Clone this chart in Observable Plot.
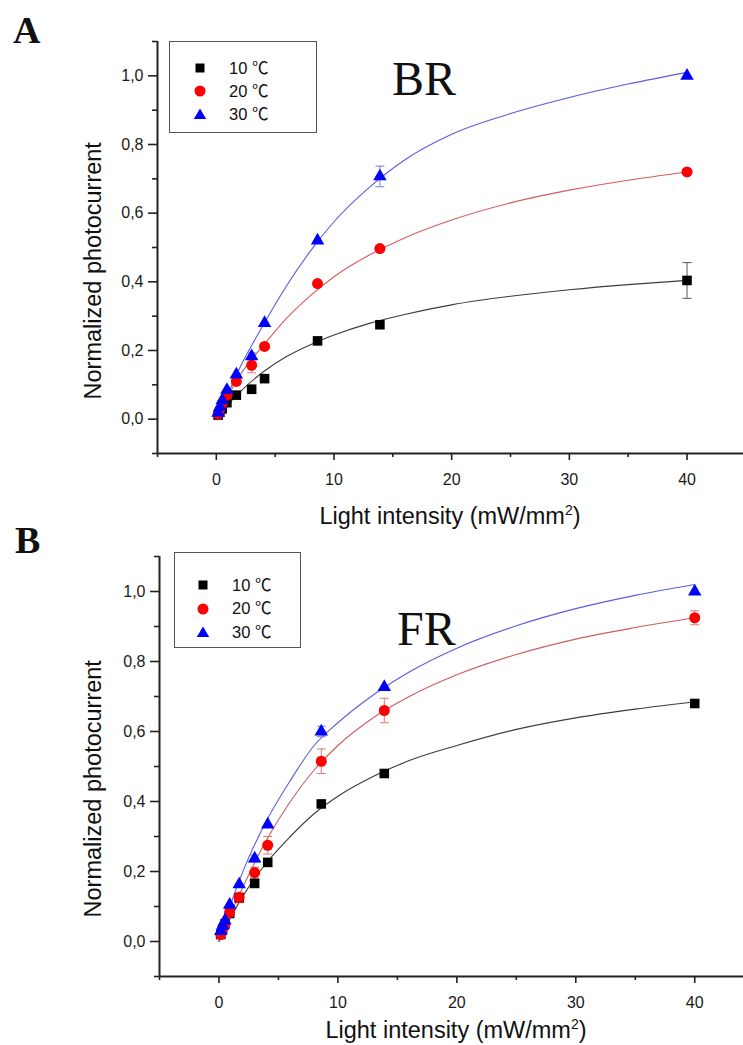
<!DOCTYPE html>
<html><head><meta charset="utf-8">
<script src="https://cdn.jsdelivr.net/npm/d3@7"></script>
<script src="https://cdn.jsdelivr.net/npm/@observablehq/plot@0.6"></script>
<style>
body{margin:0;background:#fff;}
#page{position:relative;width:743px;height:1045px;overflow:hidden;font-family:"Liberation Sans",Arial,sans-serif;color:#111;}
.abs{position:absolute;white-space:nowrap;line-height:1;}
.panel{position:absolute;left:0;}
</style></head><body><div id="page"></div>
<script>
// ---------- data ----------
const intensity = [0.15, 0.3, 0.5, 0.9, 1.7, 3.0, 4.1, 8.6, 13.9, 40];
const seriesNames = ["10 ℃", "20 ℃", "30 ℃"];
const seriesColors = ["#000000", "#ff0000", "#0000ff"];
const fitColors = ["#3c3c3c", "#d05c5c", "#5c5ce0"];
const errColors = ["#555555", "#e07878", "#7878e0"];
const seriesSymbols = ["square", "circle", "triangle"];

// BR panel (A)
const brT10 = [0.012, 0.02, 0.03, 0.048, 0.07, 0.087, 0.118, 0.228, 0.275, 0.404];
const brT20 = [0.015, 0.028, 0.045, 0.07, 0.11, 0.157, 0.212, 0.395, 0.497, 0.72];
const brT30 = [0.018, 0.035, 0.055, 0.085, 0.13, 0.183, 0.28, 0.52, 0.707, 1.0];
const brE10 = [0, 0, 0, 0, 0, 0.012, 0, 0, 0, 0.052];
const brE20 = [0, 0, 0, 0, 0.01, 0.022, 0, 0, 0, 0];
const brE30 = [0, 0, 0, 0, 0, 0.01, 0, 0, 0.03, 0];

// FR panel (B)
const frT10 = [0.02, 0.035, 0.05, 0.08, 0.125, 0.166, 0.226, 0.393, 0.48, 0.68];
const frT20 = [0.02, 0.035, 0.05, 0.083, 0.126, 0.197, 0.275, 0.515, 0.66, 0.925];
const frT30 = [0.03, 0.045, 0.06, 0.105, 0.163, 0.237, 0.334, 0.60, 0.727, 1.0];
const frE10 = [0, 0, 0, 0, 0, 0.012, 0, 0, 0, 0];
const frE20 = [0, 0.012, 0, 0.01, 0.015, 0.015, 0.025, 0.035, 0.035, 0.02];
const frE30 = [0, 0, 0, 0, 0, 0.01, 0, 0.015, 0, 0];

// fitted curves
const fitX = [0, 1, 2, 4, 6, 8, 10, 13, 16, 20, 25, 30, 35, 40];
const brFit10 = [0, 0.043, 0.079, 0.138, 0.183, 0.217, 0.245, 0.279, 0.305, 0.333, 0.358, 0.377, 0.392, 0.404];
const brFit20 = [0, 0.068, 0.128, 0.215, 0.295, 0.36, 0.415, 0.478, 0.528, 0.58, 0.63, 0.667, 0.696, 0.72];
const brFit30 = [0, 0.075, 0.15, 0.275, 0.39, 0.49, 0.575, 0.675, 0.755, 0.83, 0.89, 0.937, 0.976, 1.01];
const frFit10 = [0, 0.07, 0.129, 0.225, 0.30, 0.365, 0.415, 0.472, 0.517, 0.56, 0.606, 0.639, 0.664, 0.685];
const frFit20 = [0, 0.08, 0.155, 0.29, 0.40, 0.49, 0.56, 0.64, 0.70, 0.762, 0.82, 0.864, 0.897, 0.925];
const frFit30 = [0, 0.108, 0.199, 0.345, 0.46, 0.56, 0.625, 0.705, 0.77, 0.838, 0.902, 0.951, 0.989, 1.02];

// axes
const yMajor = [0, 0.2, 0.4, 0.6, 0.8, 1.0];
const yMinor = [-0.1, 0.1, 0.3, 0.5, 0.7, 0.9, 1.1];
const xMajor = [0, 10, 20, 30, 40];
const xMinor = [-5, 5, 15, 25, 35, 45];
const yDomain = [-0.1, 1.1];
const xLabel = "Light intensity (mW/mm²)";
const yLabel = "Normalized photocurrent";

// ---------- drawing ----------
const page = document.getElementById("page");
const FONT = '"Liberation Sans", Arial, "Noto Sans CJK SC", sans-serif';
const capSymbol = {draw(ctx) { ctx.moveTo(-4.5, 0); ctx.lineTo(4.5, 0); }};
const radii = [5.4, 5.5, 5.0];
const AXIS = "#222";

function buildPanel(cfg) {
  const rows = [];
  cfg.ys.forEach((arr, s) => arr.forEach((y, i) => rows.push({s, x: intensity[i], y, e: cfg.es[s][i]})));
  const fits = [];
  cfg.fits.forEach((arr, s) => arr.forEach((y, j) => fits.push({s, x: fitX[j], y})));
  const errs = rows.filter(d => d.e > 0);
  const fmt = d => d.toFixed(1).replace(".", ",");
  const marks = [
    Plot.line(fits, {x: "x", y: "y", z: "s", stroke: d => fitColors[d.s], strokeWidth: 1.1, curve: "monotone-x"}),
    Plot.ruleX(errs, {x: "x", y1: d => d.y - d.e, y2: d => d.y + d.e, stroke: d => errColors[d.s], strokeWidth: 1}),
    Plot.dot(errs, {x: "x", y: d => d.y + d.e, symbol: capSymbol, stroke: d => errColors[d.s], r: 3, strokeWidth: 1}),
    Plot.dot(errs, {x: "x", y: d => d.y - d.e, symbol: capSymbol, stroke: d => errColors[d.s], r: 3, strokeWidth: 1}),
  ];
  [0, 1, 2].forEach(s => marks.push(
    Plot.dot(rows.filter(d => d.s === s), {x: "x", y: "y", symbol: seriesSymbols[s], fill: seriesColors[s], r: radii[s]})
  ));
  marks.push(
    Plot.ruleY([yDomain[0]], {stroke: AXIS, strokeWidth: 2}),
    Plot.ruleX([cfg.xDomain[0]], {stroke: AXIS, strokeWidth: 2}),
    Plot.axisY({ticks: yMajor, tickSize: 9, tickPadding: 5, tickFormat: fmt, label: null, stroke: AXIS, strokeWidth: 1.6}),
    Plot.axisY({ticks: yMinor, tickSize: 5, tickFormat: () => "", label: null, stroke: AXIS, strokeWidth: 1.6}),
    Plot.axisX({ticks: xMajor, tickSize: 7, tickPadding: 13, tickFormat: d => String(d), label: null, stroke: AXIS, strokeWidth: 1.6}),
    Plot.axisX({ticks: xMinor.filter(v => v <= cfg.xDomain[1]), tickSize: 4, tickFormat: () => "", label: null, stroke: AXIS, strokeWidth: 1.6})
  );
  const svg = Plot.plot({
    width: 743, height: 540,
    marginLeft: cfg.marginLeft, marginRight: 0, marginTop: cfg.marginTop, marginBottom: cfg.marginBottom,
    x: {domain: cfg.xDomain},
    y: {domain: yDomain},
    color: {type: "identity"},
    style: {background: "transparent", overflow: "visible", fontSize: "16px", fontFamily: FONT, color: "#1a1a1a"},
    marks
  });
  const wrap = document.createElement("div");
  wrap.className = "panel";
  wrap.style.top = cfg.top + "px";
  wrap.appendChild(svg);
  page.appendChild(wrap);
}

function text(str, o) {
  const d = document.createElement("div");
  d.className = "abs";
  d.innerHTML = str;
  Object.assign(d.style, o);
  page.appendChild(d);
  return d;
}

function legend(box, rowYs, markerX, textX) {
  const b = document.createElement("div");
  b.className = "abs";
  Object.assign(b.style, {left: box.left + "px", top: box.top + "px", width: box.w + "px", height: box.h + "px",
    border: "1px solid #555", boxSizing: "border-box"});
  page.appendChild(b);
  const shapes = [
    '<rect x="2.5" y="2.5" width="9" height="9" fill="#000"/>',
    '<circle cx="7" cy="7" r="5.5" fill="#ff0000"/>',
    '<path d="M7,1.5 L13.2,12 L0.8,12 Z" fill="#0000ff"/>'
  ];
  rowYs.forEach((ry, s) => {
    const m = document.createElement("div");
    m.className = "abs";
    Object.assign(m.style, {left: (markerX - 7) + "px", top: (ry - 7) + "px", width: "14px", height: "14px"});
    m.innerHTML = '<svg width="14" height="14" style="display:block">' + shapes[s] + '</svg>';
    page.appendChild(m);
    text(seriesNames[s], {left: textX + "px", top: (ry - 8.5) + "px", fontSize: "16.5px", fontFamily: FONT});
  });
}

// Panel A (BR)
buildPanel({top: 0, marginLeft: 157, marginTop: 41, marginBottom: 87, xDomain: [-5, 44.8],
  ys: [brT10, brT20, brT30], es: [brE10, brE20, brE30], fits: [brFit10, brFit20, brFit30]});
// Panel B (FR)
buildPanel({top: 505, marginLeft: 159, marginTop: 51, marginBottom: 69, xDomain: [-5, 44.1],
  ys: [frT10, frT20, frT30], es: [frE10, frE20, frE30], fits: [frFit10, frFit20, frFit30]});

// panel letters and titles
const serif = '"Liberation Serif", "Times New Roman", serif';
text("A", {left: "13px", top: "11px", fontSize: "38px", fontWeight: "bold", fontFamily: serif});
text("B", {left: "15px", top: "521px", fontSize: "38px", fontWeight: "bold", fontFamily: serif});
text("BR", {left: "392px", top: "55px", fontSize: "48px", fontFamily: serif});
text("FR", {left: "397px", top: "605px", fontSize: "48px", fontFamily: serif});

// axis titles
const xl = xLabel.replace("²", '<span style="font-size:14px;position:relative;top:-9px">2</span>');
text(xl, {left: "300px", width: "300px", textAlign: "center", top: "505px", fontSize: "23.5px", fontFamily: FONT});
text(xl, {left: "306px", width: "300px", textAlign: "center", top: "1019px", fontSize: "23.5px", fontFamily: FONT});
[271, 789].forEach(cy => text(yLabel, {left: (93.5 - 150) + "px", top: (cy - 11.75) + "px", width: "300px", height: "23.5px",
  textAlign: "center", fontSize: "23.5px", fontFamily: FONT, transform: "rotate(-90deg)", transformOrigin: "50% 50%"}));

// legends
legend({left: 169, top: 41, w: 148, h: 92}, [68, 91, 114], 200, 229);
legend({left: 174, top: 552, w: 127, h: 96}, [585, 608.5, 632], 203, 232);
</script></body></html>
